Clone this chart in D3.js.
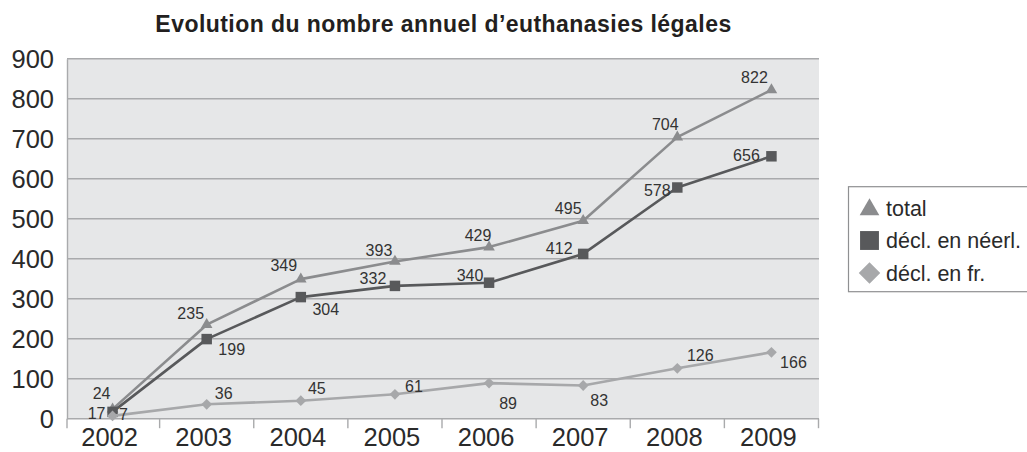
<!DOCTYPE html>
<html>
<head>
<meta charset="utf-8">
<script src="https://cdn.jsdelivr.net/npm/d3@7/dist/d3.min.js"></script>
<style>
  html, body { margin: 0; padding: 0; background: #ffffff; }
  svg { display: block; }
  text { font-family: "Liberation Sans", Arial, Helvetica, sans-serif; }
</style>
</head>
<body>
<svg id="chart" width="1027" height="452"></svg>
<script>
// ---- data ----
const years = ["2002", "2003", "2004", "2005", "2006", "2007", "2008", "2009"];
const totalValues = [24, 235, 349, 393, 429, 495, 704, 822];
const neerlValues = [17, 199, 304, 332, 340, 412, 578, 656];
const frValues = [7, 36, 45, 61, 89, 83, 126, 166];
const yTickValues = [0, 100, 200, 300, 400, 500, 600, 700, 800, 900];
const seriesNames = ["total", "décl. en néerl.", "décl. en fr."];
const chartTitle = "Evolution du nombre annuel d\u2019euthanasies légales";

// ---- label placement (style, relative to each point) ----
const totalLabelOffsets = [[-11, -16], [-16, -11], [-17, -14], [-16, -11.5], [-11, -12], [-15, -12], [-12, -13], [-17, -13]];
const neerlLabelOffsets = [[-16, 1.5], [25, 10], [25, 12], [-22, -7.5], [-19, -7.5], [-24, -5.5], [-20, 3], [-25, -1.5]];
const frLabelOffsets = [[11, -2], [17, -11], [16, -12], [19, -8], [19, 20], [16, 14.5], [23, -13], [22, 10]];

const svg = d3.select("#chart");

const plot = { left: 67, right: 819, top: 58.7, bottom: 418.7 };

const x = d3.scaleBand().domain(years).range([65.5, 818.5]).padding(0);
const y = d3.scaleLinear().domain([0, 900]).range([plot.bottom, plot.top]);
const cx = d => x(d) + x.bandwidth() / 2;

const gridColor = "#a9aaac";
const textColor = "#2a2a2a";

// Plot background
svg.append("rect")
  .attr("x", plot.left).attr("y", plot.top)
  .attr("width", plot.right - plot.left).attr("height", plot.bottom - plot.top)
  .attr("fill", "#e6e7e8");

// Gridlines
svg.append("g").selectAll("line")
  .data(yTickValues.filter(v => v > 0))
  .join("line")
  .attr("x1", plot.left).attr("x2", plot.right)
  .attr("y1", d => y(d)).attr("y2", d => y(d))
  .attr("stroke", gridColor).attr("stroke-width", 1.6);

// Y axis
const yAxis = d3.axisLeft(y).tickValues(yTickValues).tickSize(0).tickPadding(13);
const yg = svg.append("g").attr("transform", `translate(${plot.left},0)`).call(yAxis);
yg.select(".domain").attr("stroke", gridColor).attr("stroke-width", 1.4);
yg.selectAll("text")
  .attr("fill", textColor)
  .style("font-size", "25.5px")
  .attr("dy", "0.36em");

// X axis
const xAxis = d3.axisBottom(x).tickSize(0).tickPadding(0);
const xg = svg.append("g").attr("transform", `translate(0,${plot.bottom})`).call(xAxis);
xg.select(".domain").remove();
xg.selectAll("text")
  .attr("fill", textColor)
  .style("font-size", "25.5px")
  .attr("dx", "-3")
  .attr("y", 27)
  .attr("dy", 0);
// baseline
svg.append("line")
  .attr("x1", plot.left).attr("x2", plot.right)
  .attr("y1", plot.bottom).attr("y2", plot.bottom)
  .attr("stroke", gridColor).attr("stroke-width", 1.6);
// category boundary ticks
const boundaries = years.map(d => x(d)).concat([x(years[years.length - 1]) + x.bandwidth()]);
svg.append("g").selectAll("line")
  .data(boundaries.slice(1))
  .join("line")
  .attr("x1", d => d).attr("x2", d => d)
  .attr("y1", plot.bottom).attr("y2", plot.bottom + 9.5)
  .attr("stroke", gridColor).attr("stroke-width", 1.4);
svg.append("line")
  .attr("x1", plot.left).attr("x2", plot.left)
  .attr("y1", plot.bottom).attr("y2", plot.bottom + 9.5)
  .attr("stroke", gridColor).attr("stroke-width", 1.4);

// Series
const series = [
  { name: seriesNames[0], values: totalValues, color: "#8b8c8e", marker: "triangle", offsets: totalLabelOffsets },
  { name: seriesNames[1], values: neerlValues, color: "#58595b", marker: "square", offsets: neerlLabelOffsets },
  { name: seriesNames[2], values: frValues, color: "#a7a8aa", marker: "diamond", offsets: frLabelOffsets }
];

function markerPath(type, scale) {
  if (type === "triangle") return d3.symbol().type(d3.symbolTriangle).size(58 * scale * scale)();
  if (type === "square") return d3.symbol().type(d3.symbolSquare).size(110 * scale * scale)();
  return d3.symbol().type(d3.symbolSquare).size(58 * scale * scale)();
}
function markerTransform(type, px, py) {
  return type === "diamond" ? `translate(${px},${py}) rotate(45)` : `translate(${px},${py})`;
}

const line = d3.line().x(d => cx(d.year)).y(d => y(d.value));

series.forEach(s => {
  const pts = years.map((yr, i) => ({ year: yr, value: s.values[i], off: s.offsets[i] }));
  const g = svg.append("g");
  g.append("path")
    .datum(pts)
    .attr("d", line)
    .attr("fill", "none")
    .attr("stroke", s.color)
    .attr("stroke-width", 2.6)
    .attr("stroke-linejoin", "round");
  g.selectAll("path.m")
    .data(pts)
    .join("path")
    .attr("class", "m")
    .attr("d", markerPath(s.marker, 1))
    .attr("transform", d => markerTransform(s.marker, cx(d.year), y(d.value)))
    .attr("fill", s.color);
  s.pts = pts;
});

// Data labels (drawn above all lines)
series.forEach(s => {
  svg.append("g").selectAll("text")
    .data(s.pts)
    .join("text")
    .attr("x", d => cx(d.year) + d.off[0])
    .attr("y", d => y(d.value) + d.off[1])
    .attr("dy", "0.36em")
    .attr("text-anchor", "middle")
    .attr("fill", "#333333")
    .style("font-size", "16px")
    .text(d => d.value);
});

// Title
svg.append("text")
  .attr("x", 443.5).attr("y", 31.7)
  .attr("text-anchor", "middle")
  .attr("fill", "#231f20")
  .style("font-size", "23px")
  .style("font-weight", "bold")
  .style("letter-spacing", "0.45px")
  .text(chartTitle);

// Legend
const legend = svg.append("g");
legend.append("rect")
  .attr("x", 848.5).attr("y", 186.7)
  .attr("width", 300).attr("height", 105)
  .attr("fill", "#ffffff")
  .attr("stroke", "#8f9092").attr("stroke-width", 1.2);
const legendRows = [208.5, 240.5, 273];
series.forEach((s, i) => {
  legend.append("path")
    .attr("d", markerPath(s.marker, s.marker === "triangle" ? 1.7 : (s.marker === "square" ? 1.8 : 2.0)))
    .attr("transform", markerTransform(s.marker, 869.5, legendRows[i] + (s.marker === "triangle" ? 1 : 0)))
    .attr("fill", s.color);
  legend.append("text")
    .attr("x", 886).attr("y", legendRows[i])
    .attr("dy", "0.36em")
    .attr("fill", textColor)
    .style("font-size", "21.5px")
    .text(s.name);
});
</script>
</body>
</html>
